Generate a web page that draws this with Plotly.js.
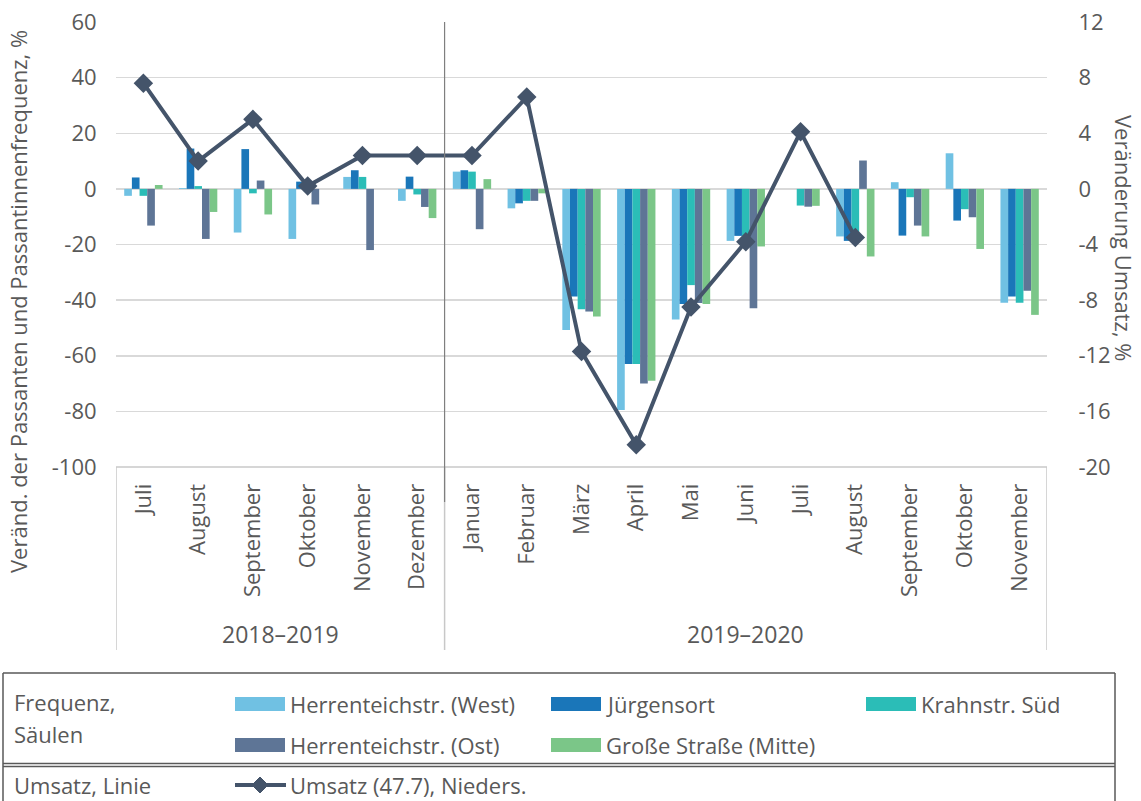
<!DOCTYPE html>
<html>
<head>
<meta charset="utf-8">
<script src="https://cdn.plot.ly/plotly-3.0.1.min.js"></script>
<style>
html,body{margin:0;padding:0;background:#fff;}
#chart{width:1141px;height:801px;}
</style>
</head>
<body>
<div id="chart"></div>
<script>
// ---- data ----
const months = ['Juli','August','September','Oktober','November','Dezember','Januar','Februar','März','April','Mai','Juni','Juli','August','September','Oktober','November'];
const periods = ['2018–2019','2019–2020'];
const periodSizes = [6, 11];

const herrenteichWest = [-2.5, 0.3, -15.7, -18, 4.3, -4.3, 6.2, -7, -50.7, -79.5, -47, -18.7, 0, -17.1, 2.4, 12.8, -40.9];
const juergensort     = [4.1, 14.5, 14.3, 2.6, 6.7, 4.4, 6.7, -5.2, -38.7, -63, -41.4, -16.9, 0, -18.7, -16.8, -11.4, -38.7];
const krahnSued       = [-2.5, 1, -1.6, -1, 4.3, -2, 6.2, -4.3, -43.3, -63, -34.6, -18, -6, -18, -3, -7.3, -40.9];
const herrenteichOst  = [-13.2, -18, 3, -5.6, -22, -6.5, -14.5, -4.3, -44.1, -70, -41, -42.9, -6.4, 10.2, -13.2, -10.2, -36.6];
const grosseStrasse   = [1.4, -8.3, -9.2, 0, 0, -10.5, 3.5, -1.6, -45.9, -69, -41.4, -20.7, -6.1, -24.3, -17.1, -21.6, -45.3];
const umsatz          = [7.6, 2.0, 5.0, 0.2, 2.4, 2.4, 2.4, 6.6, -11.7, -18.4, -8.5, -3.8, 4.1, -3.5, null, null, null];

const leftTicks  = [60, 40, 20, 0, -20, -40, -60, -80, -100];
const rightTicks = [12, 8, 4, 0, -4, -8, -12, -16, -20];

const barNames  = ['Herrenteichstr. (West)','Jürgensort','Krahnstr. Süd','Herrenteichstr. (Ost)','Große Straße (Mitte)'];
const barSeries = [herrenteichWest, juergensort, krahnSued, herrenteichOst, grosseStrasse];
const barColors = ['#70c1e3','#1a76b9','#2bbdb7','#5e7596','#7bc688'];
const lineName  = 'Umsatz (47.7), Nieders.';
const lineColor = '#44546a';

// ---- geometry (pixels) ----
const W = 1141, H = 801;
const L = 116, R = 1047, T = 22, B = 467;
const pw = R - L, ph = B - T;
const px = p => (p - L) / pw;
const py = p => (B - p) / ph;

const FONT = 'Open Sans, Liberation Sans, sans-serif';
const TXT = '#595959';
const FS = 22;
const xs = months.map((m, i) => i);

const traces = barSeries.map((s, k) => ({
  type: 'bar', x: xs, y: s, name: barNames[k],
  marker: {color: barColors[k], line: {width: 0}},
  hoverinfo: 'y+name', showlegend: false
}));
traces.push({
  type: 'scatter', mode: 'lines+markers', x: xs, y: umsatz, yaxis: 'y2',
  name: lineName, line: {color: lineColor, width: 4},
  marker: {symbol: 'diamond', size: 15, color: lineColor},
  connectgaps: false, showlegend: false
});

const shapes = [];
const annotations = [];

// period separators & category box
let acc = 0;
const bounds = [-0.5];
periodSizes.forEach(n => { acc += n; bounds.push(acc - 0.5); });
const grey = '#c8c8c8';
shapes.push({type:'line', xref:'paper', yref:'paper', x0:0, x1:1, y0:0, y1:0, line:{color:grey, width:1.5}});
bounds.forEach(b => {
  shapes.push({type:'line', xref:'x', yref:'paper', x0:b, x1:b, y0:0, y1:py(650), line:{color:grey, width:1.5}});
});
// dark separator inside plot
shapes.push({type:'line', xref:'x', yref:'paper', x0:bounds[1], x1:bounds[1], y0:py(502), y1:1, line:{color:'#7f7f7f', width:1.2}});

let start = 0;
periods.forEach((p, i) => {
  const mid = start + (periodSizes[i] - 1) / 2;
  annotations.push({xref:'x', yref:'paper', x: mid, y: py(634), text: p, showarrow:false,
    font:{family:FONT, size:23, color:TXT}, xanchor:'center', yanchor:'middle'});
  start += periodSizes[i];
});

// axis titles
annotations.push({xref:'paper', yref:'paper', x: px(18), y: py(302), text:'Veränd. der Passanten und Passantinnenfrequenz, %',
  textangle:-90, showarrow:false, font:{family:FONT, size:FS, color:TXT}, xanchor:'center', yanchor:'middle'});
annotations.push({xref:'paper', yref:'paper', x: px(1124), y: py(238), text:'Veränderung Umsatz, %',
  textangle:90, showarrow:false, font:{family:FONT, size:22, color:TXT}, xanchor:'center', yanchor:'middle'});

// legend box
const lgTop = 673, lgSep = 765, lgLeft = 3, lgRight = 1115;
const bc = '#595959';
shapes.push({type:'line', xref:'paper', yref:'paper', x0:px(lgLeft), x1:px(lgRight), y0:py(lgTop), y1:py(lgTop), line:{color:bc, width:1.5}});
shapes.push({type:'line', xref:'paper', yref:'paper', x0:px(lgLeft), x1:px(lgRight), y0:py(lgSep-1.5), y1:py(lgSep-1.5), line:{color:bc, width:1.5}});
shapes.push({type:'line', xref:'paper', yref:'paper', x0:px(lgLeft), x1:px(lgRight), y0:py(lgSep+1.5), y1:py(lgSep+1.5), line:{color:bc, width:1.5}});
shapes.push({type:'line', xref:'paper', yref:'paper', x0:px(lgLeft), x1:px(lgLeft), y0:py(lgTop), y1:py(H+2), line:{color:bc, width:1.5}});
shapes.push({type:'line', xref:'paper', yref:'paper', x0:px(lgRight), x1:px(lgRight), y0:py(lgTop), y1:py(H+2), line:{color:bc, width:1.5}});

const lgFont = {family:FONT, size:FS, color:TXT};
annotations.push({xref:'paper', yref:'paper', x:px(12), y:py(702), text:'Frequenz,', showarrow:false, font:lgFont, xanchor:'left', yanchor:'middle'});
annotations.push({xref:'paper', yref:'paper', x:px(12), y:py(734), text:'Säulen', showarrow:false, font:lgFont, xanchor:'left', yanchor:'middle'});
annotations.push({xref:'paper', yref:'paper', x:px(12), y:py(785), text:'Umsatz, Linie', showarrow:false, font:lgFont, xanchor:'left', yanchor:'middle'});

const slots = [[235,704],[551,704],[866,704],[235,745],[551,745]];
barNames.forEach((n, k) => {
  const [sx, sy] = slots[k];
  shapes.push({type:'rect', xref:'paper', yref:'paper', x0:px(sx), x1:px(sx+50), y0:py(sy-7), y1:py(sy+7),
    fillcolor:barColors[k], line:{width:0}});
  annotations.push({xref:'paper', yref:'paper', x:px(sx+53), y:py(sy), text:n, showarrow:false, font:lgFont, xanchor:'left', yanchor:'middle'});
});
// line legend
shapes.push({type:'line', xref:'paper', yref:'paper', x0:px(235), x1:px(286), y0:py(785), y1:py(785), line:{color:lineColor, width:4}});
shapes.push({type:'path', xref:'paper', yref:'paper',
  path: `M ${px(260)} ${py(777)} L ${px(268)} ${py(785)} L ${px(260)} ${py(793)} L ${px(252)} ${py(785)} Z`,
  fillcolor:lineColor, line:{color:lineColor, width:1}});
annotations.push({xref:'paper', yref:'paper', x:px(288), y:py(785), text:lineName, showarrow:false, font:lgFont, xanchor:'left', yanchor:'middle'});

const layout = {
  width: W, height: H,
  margin: {l: L, r: W - R, t: T, b: H - B, pad: 0},
  paper_bgcolor: '#fff', plot_bgcolor: '#fff',
  barmode: 'group', bargap: 0.3, bargroupgap: 0,
  showlegend: false,
  font: {family: FONT, size: FS, color: TXT},
  xaxis: {
    range: [-0.5, months.length - 0.5], tickmode: 'array', tickvals: xs, ticktext: months,
    tickangle: -90, showgrid: false, zeroline: false, showline: false,
    ticks: 'outside', ticklen: 7, tickcolor: 'rgba(0,0,0,0)',
    tickfont: {family: FONT, size: FS, color: TXT}, fixedrange: true
  },
  yaxis: {
    range: [-100, 60], tickmode: 'array', tickvals: leftTicks, ticktext: leftTicks.map(String),
    showgrid: true, gridcolor: '#d9d9d9', gridwidth: 1.5,
    zeroline: false, showline: false, ticks: 'outside', ticklen: 14, tickcolor: 'rgba(0,0,0,0)',
    tickfont: {family: FONT, size: FS, color: TXT}
  },
  yaxis2: {
    range: [-20, 12], tickmode: 'array', tickvals: rightTicks, ticktext: rightTicks.map(String),
    overlaying: 'y', side: 'right', showgrid: false,
    zeroline: false, showline: false, ticks: 'outside', ticklen: 26, tickcolor: 'rgba(0,0,0,0)',
    tickfont: {family: FONT, size: FS, color: TXT}
  },
  shapes: shapes,
  annotations: annotations
};

Plotly.newPlot('chart', traces, layout, {displayModeBar: false, staticPlot: true});
</script>
</body>
</html>
